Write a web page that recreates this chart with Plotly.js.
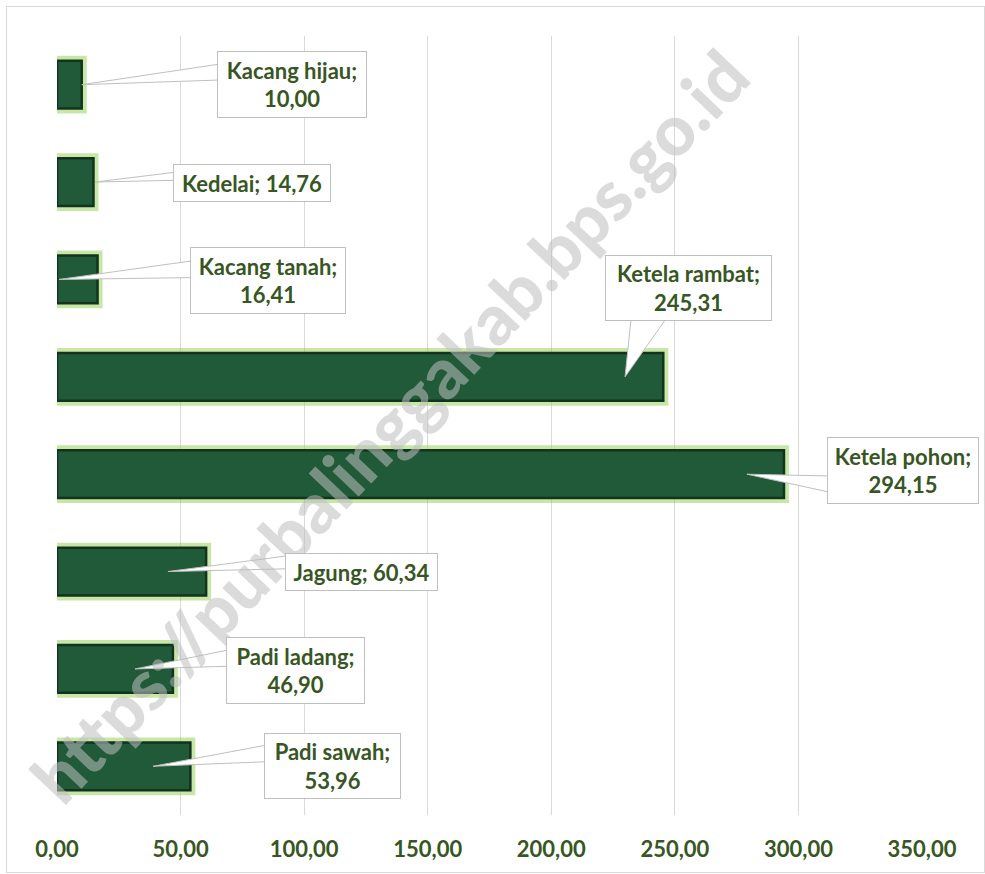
<!DOCTYPE html>
<html><head><meta charset="utf-8">
<script src="https://cdn.plot.ly/plotly-3.0.1.min.js"></script>
<style>
html,body{margin:0;padding:0;background:#fff;}
#chart{width:985px;height:874px;}
#frame{position:absolute;left:6px;top:6px;width:977px;height:865px;border:1px solid #d9d9d9;pointer-events:none;}
</style>
</head><body>
<div id="chart"></div><div id="frame"></div>
<script>
// ---- data ----
const categories = ["Padi sawah","Padi ladang","Jagung","Ketela pohon","Ketela rambat","Kacang tanah","Kedelai","Kacang hijau"];
const values = [53.96, 46.90, 60.34, 294.15, 245.31, 16.41, 14.76, 10.00];
const xTickValues = [0, 50, 100, 150, 200, 250, 300, 350];
const twoLineLabel = [true, true, false, true, true, true, false, true];
const watermarkText = "https://purbalinggakab.bps.go.id";

// ---- callout layout (pixels, y down-positive) ----
const callouts = [
  {tip:0.72, dx:179.5, dy:0,    w:137, h:66, base:[[123,-23],[123,-5]]},
  {tip:0.674,dx:160.5, dy:1.5,  w:139, h:67, base:[[103,-21],[103,-3]]},
  {tip:0.744,dx:193.5, dy:0,    w:153, h:38, base:[[129,-17],[129,-3]]},
  {tip:0.949,dx:156,   dy:-3.5, w:152, h:67, base:[[92,2],[92,20]]},
  {tip:0.937,dx:63.5,  dy:-89,  w:167, h:66, base:[[7,-68],[48,-68]]},
  {tip:0.05, dx:209,   dy:1.5,  w:156, h:67, base:[[143,-20],[143,-2]]},
  {tip:1.04, dx:157,   dy:1,    w:158, h:38, base:[[90,-11],[90,-2]]},
  {tip:1.0,  dx:210,   dy:-0.5, w:150, h:67, base:[[147,-22],[147,-5]]}
];

const txtColor = '#375623';
const labelFont = {family:'Lato, "Open Sans", sans-serif', size:22, color:txtColor, weight:'bold'};
const fmt = v => v.toFixed(2).replace('.', ',');

const glow = {
  type:'bar', orientation:'h', x:values, y:categories, width:0.49,
  marker:{color:'rgba(0,0,0,0)', line:{color:'rgba(146,208,80,0.5)', width:10}},
  hoverinfo:'skip', showlegend:false
};
const bars = {
  type:'bar', orientation:'h', x:values, y:categories, width:0.49,
  marker:{color:'#215a39', line:{color:'#12331d', width:2.5}},
  showlegend:false
};

const shapes = [];
const annotations = [{
  xref:'paper', yref:'paper', x:0.383, y:0.5, text:watermarkText, showarrow:false,
  textangle:-46.5, font:{family:'Lato, sans-serif', size:70, color:'rgba(190,190,190,0.55)', weight:900}
}];
categories.forEach((c, i) => {
  const co = callouts[i];
  const tx = values[i] * co.tip;
  const p = `M 0 0 L ${co.base[0][0]} ${-co.base[0][1]} L ${co.base[1][0]} ${-co.base[1][1]} Z`;
  shapes.push({type:'path', xref:'x', yref:'y', xsizemode:'pixel', ysizemode:'pixel',
    xanchor:tx, yanchor:i, path:p, fillcolor:'#ffffff', line:{color:'#bfbfbf', width:1}, layer:'above'});
  const text = twoLineLabel[i] ? `${c};<br>${fmt(values[i])}` : `${c}; ${fmt(values[i])}`;
  annotations.push({xref:'x', yref:'y', x:tx, y:i, xshift:co.dx, yshift:-co.dy,
    text:text, showarrow:false, width:co.w-2, height:co.h-2, borderpad:0,
    bgcolor:'#ffffff', bordercolor:'#bfbfbf', borderwidth:1, font:labelFont, align:'center', valign:'middle'});
});

const layout = {
  width:985, height:874,
  margin:{l:57, r:63, t:36, b:59, pad:0},
  paper_bgcolor:'#ffffff', plot_bgcolor:'#ffffff',
  barmode:'overlay',
  separators:',.',
  xaxis:{range:[0,350], tickvals:xTickValues, tickformat:'.2f', showgrid:true, gridcolor:'#d9d9d9', gridwidth:1,
    zeroline:false, showline:false, ticks:'', ticklabelstandoff:19,
    tickfont:{family:'Lato, "Open Sans", sans-serif', size:22, color:txtColor, weight:'bold'}, fixedrange:true},
  yaxis:{type:'category', categoryorder:'array', categoryarray:categories, range:[-0.5,7.5],
    showticklabels:false, showgrid:false, zeroline:false, showline:false, ticks:'', fixedrange:true},
  shapes:shapes,
  annotations:annotations
};
Plotly.newPlot('chart', [glow, bars], layout, {displayModeBar:false, staticPlot:true});
</script>
</body></html>
